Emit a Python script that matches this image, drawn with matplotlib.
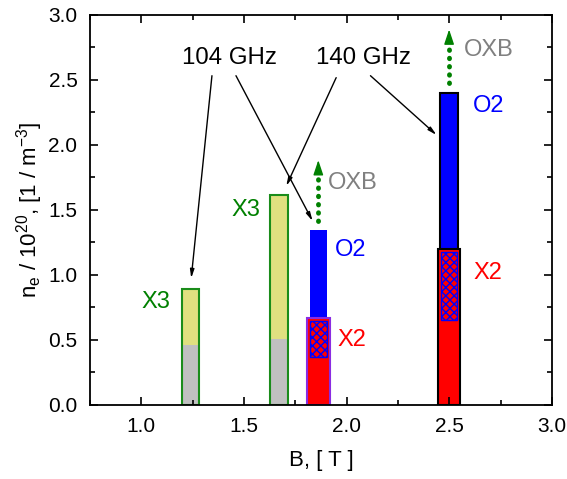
import numpy as np
import matplotlib
matplotlib.use("Agg")
import matplotlib.pyplot as plt
from matplotlib.ticker import MultipleLocator

plt.rcParams['font.family'] = ['Liberation Sans', 'DejaVu Sans']
plt.rcParams['mathtext.default'] = 'regular'
plt.rcParams['hatch.linewidth'] = 1.0

# X3 bars (104 GHz, 140 GHz)
x3_b = [1.238, 1.67]
x3_top = [0.89, 1.615]
x3_grey = [0.46, 0.505]
x3_w = [0.083, 0.088]

# O2 / X2 bars
ox_b = [1.862, 2.499]
o2_top = [1.344, 2.40]
x2_top = [0.672, 1.198]
hatch_lo = [0.372, 0.654]
hatch_hi = [0.648, 1.18]
o2_w = [0.085, 0.086]
x2_w = [0.112, 0.107]
hatch_w = [0.08, 0.08]
x2_edge = ['#8a2be2', 'black']
o2_edge = ['blue', 'black']

# OXB arrows
oxb_b = [1.862, 2.499]
oxb_lo = [1.415, 2.48]
oxb_hi = [1.905, 2.91]

fig = plt.figure(figsize=(5.67, 4.79), dpi=100)
ax = fig.add_axes([0.1587, 0.1545, 0.8148, 0.8142])

# X3 bars
for i in range(2):
    ax.bar(x3_b[i], x3_grey[i], width=x3_w[i], color='#c0c0c0', linewidth=0)
    ax.bar(x3_b[i], x3_top[i] - x3_grey[i], bottom=x3_grey[i], width=x3_w[i],
           color='#e0e080', linewidth=0)
    ax.bar(x3_b[i], x3_top[i], width=x3_w[i], fill=False, edgecolor='#1a8c1a', linewidth=1.5)

# O2 and X2 bars
for i in range(2):
    ax.bar(ox_b[i], o2_top[i], width=o2_w[i], color='blue', edgecolor=o2_edge[i],
           linewidth=1.5 if i == 1 else 0)
    ax.bar(ox_b[i], x2_top[i], width=x2_w[i], color='red', edgecolor=x2_edge[i], linewidth=1.5)
    ax.bar(ox_b[i], hatch_hi[i] - hatch_lo[i], bottom=hatch_lo[i], width=hatch_w[i],
           color='red', edgecolor='blue', hatch='xxxx', linewidth=1.0)

# OXB dotted arrows
for i in range(2):
    ax.plot([oxb_b[i], oxb_b[i]], [oxb_lo[i], oxb_hi[i] - 0.12], color='green',
            linestyle=(0, (0.1, 1.6)), linewidth=3.5, dash_capstyle='round')
    ax.annotate('', xy=(oxb_b[i], oxb_hi[i]), xytext=(oxb_b[i], oxb_hi[i] - 0.13),
                arrowprops=dict(arrowstyle='-|>,head_width=0.3,head_length=0.9',
                                color='green', lw=1))

fs = 17
ax.text(1.14, 0.795, 'X3', color='green', fontsize=fs, ha='right', va='center')
ax.text(1.579, 1.5, 'X3', color='green', fontsize=fs, ha='right', va='center')
ax.text(1.945, 1.192, 'O2', color='blue', fontsize=fs, ha='left', va='center')
ax.text(1.953, 0.5, 'X2', color='red', fontsize=fs, ha='left', va='center')
ax.text(2.617, 2.30, 'O2', color='blue', fontsize=fs, ha='left', va='center')
ax.text(2.62, 1.013, 'X2', color='red', fontsize=fs, ha='left', va='center')
ax.text(1.911, 1.705, 'OXB', color='grey', fontsize=fs, ha='left', va='center')
ax.text(2.571, 2.73, 'OXB', color='grey', fontsize=fs, ha='left', va='center')

ax.text(1.43, 2.672, '104 GHz', fontsize=17.3, ha='center', va='center')
ax.text(2.083, 2.672, '140 GHz', fontsize=17.3, ha='center', va='center')

arrows = [((1.344, 2.533), (1.243, 0.975)),
          ((1.461, 2.533), (1.834, 1.415)),
          ((1.949, 2.518), (1.706, 1.685)),
          ((2.116, 2.533), (2.438, 2.077))]
for start, end in arrows:
    ax.annotate('', xy=end, xytext=start,
                arrowprops=dict(arrowstyle='-|>,head_width=0.12,head_length=0.5',
                                color='black', lw=1, shrinkA=0, shrinkB=0))

ax.set_xlim(0.75, 3.0)
ax.set_ylim(0, 3.0)
ax.xaxis.set_major_locator(MultipleLocator(0.5))
ax.xaxis.set_minor_locator(MultipleLocator(0.25))
ax.yaxis.set_major_locator(MultipleLocator(0.5))
ax.yaxis.set_minor_locator(MultipleLocator(0.25))
ax.xaxis.set_major_formatter(matplotlib.ticker.FormatStrFormatter('%.1f'))
ax.yaxis.set_major_formatter(matplotlib.ticker.FormatStrFormatter('%.1f'))
ax.tick_params(which='both', direction='in', top=True, right=True, labelsize=15, width=1.2)
ax.tick_params(which='major', length=6, pad=9)
ax.tick_params(which='minor', length=3.5)
for s in ax.spines.values():
    s.set_linewidth(1.3)

ax.set_xlabel('B, [ T ]', fontsize=16, labelpad=10)
ax.set_ylabel('n$_e$ / 10$^{20}$, [1 / m$^{-3}$]', fontsize=16, labelpad=2)

fig.savefig('out.png', dpi=100)
